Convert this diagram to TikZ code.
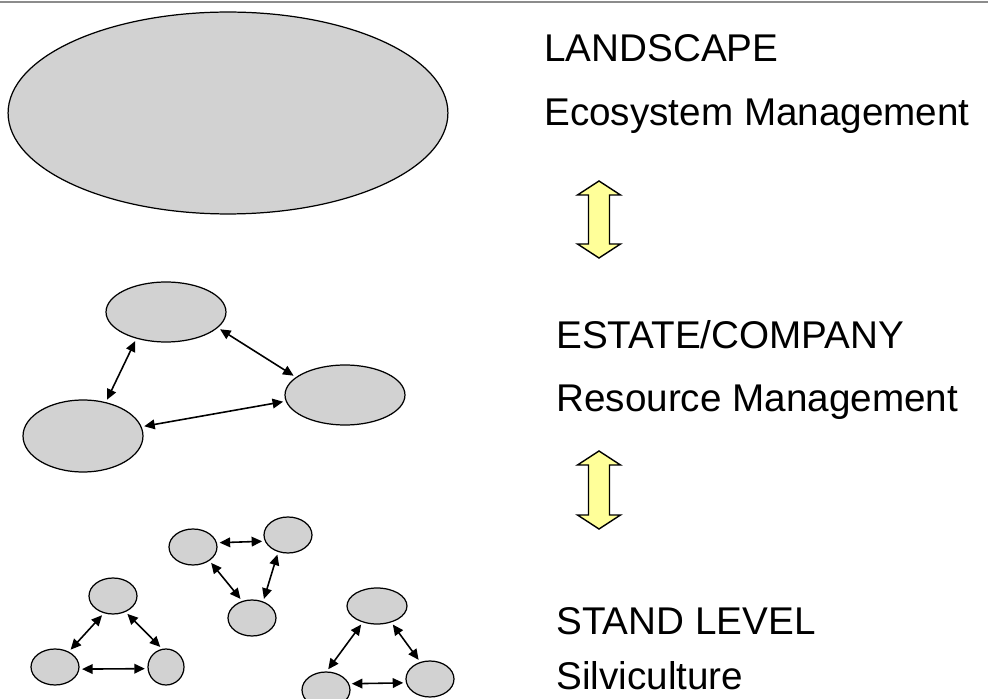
\documentclass[tikz,border=0pt]{standalone}
\usepackage{fontspec}
\setmainfont{Liberation Sans}
\usetikzlibrary{arrows.meta,shapes.geometric}
\definecolor{mgmtBlobBg}{HTML}{D2D2D2}
\definecolor{mgmtArrowBg}{HTML}{FFFF99}
\definecolor{mgmtRule}{HTML}{8C8C8C}
\tikzset{
  blob/.style={
    ellipse, draw=black, fill=mgmtBlobBg,
    line width=0.7pt, inner sep=0pt,
  },
  link arrow/.style={
    {Triangle[length=6pt, width=5.5pt]}-{Triangle[length=6pt, width=5.5pt]},
    line width=0.9pt, shorten >=1.5pt, shorten <=1.5pt,
  },
  level text/.style={
    anchor=base west, inner sep=0pt,
    font=\fontsize{22}{26}\selectfont,
  },
  scale arrow/.style={
    draw=black, line width=0.8pt, fill=mgmtArrowBg,
  },
}

\begin{document}
\begin{tikzpicture}[x=0.02cm, y=-0.02cm]

\useasboundingbox (0,0) rectangle (988,699);

% --- PARAMETERS (pixels, y downwards) ---
% name/centre x/centre y/radius x/radius y
\def\blobs{%
  land/228/113/220/101,%
  eT/166/312/60/30, eR/345/395/60/30, eL/83/436/60/36,%
  aL/193/547/24/18, aR/288/535/24/18, aB/252/618/24/18,%
  bT/113/596/24/18, bL/55/667/24/18, bR/166/667/18/18,%
  cT/377/606/30/18, cR/430/679/24/18, cL/326/690/24/18%
}
% from/angle/to/angle
\def\links{%
  eT/222/eL/56, eT/343/eR/160, eL/9/eR/186,%
  aL/10/aR/195, aL/320/aB/120, aR/240/aB/56,%
  bT/242/bL/48, bT/308/bR/102, bL/355/bR/185,%
  cT/229/cL/88, cT/311/cR/120, cL/15/cR/189%
}
\def\arrowX{599}

% --- RULE ON TOP ---
\draw[mgmtRule, line width=1.1pt] (0,2) -- (988,2);

% --- BLOBS ---
\foreach \name/\cx/\cy/\rx/\ry in \blobs {
  \node[blob, minimum width=\rx*0.04cm, minimum height=\ry*0.04cm]
    (\name) at (\cx,\cy) {};
}

% --- ARROWS BETWEEN BLOBS ---
\foreach \a/\aa/\b/\bb in \links {
  \draw[link arrow] (\a.\aa) -- (\b.\bb);
}

% --- UP/DOWN ARROWS ---
\foreach \yT/\yB in {181/258, 451/529} {
  \draw[scale arrow] (\arrowX,\yT) -- (\arrowX+21.5,\yT+14) -- (\arrowX+10.5,\yT+14)
    -- (\arrowX+10.5,\yB-14) -- (\arrowX+21.5,\yB-14) -- (\arrowX,\yB)
    -- (\arrowX-21.5,\yB-14) -- (\arrowX-10.5,\yB-14) -- (\arrowX-10.5,\yT+14)
    -- (\arrowX-21.5,\yT+14) -- cycle;
}

% --- LEVEL LABELS ---
\node[level text] (lvlLand) at (544,62) {LANDSCAPE};
\node[level text] (mgmtLand) at (544,126) {Ecosystem Management};
\node[level text] (lvlEst) at (556,349) {ESTATE/COMPANY};
\node[level text] (mgmtEst) at (556,412) {Resource Management};
\node[level text] (lvlStand) at (556,634) {STAND LEVEL};
\node[level text] (mgmtStand) at (556,689) {Silviculture};

\end{tikzpicture}
\end{document}
